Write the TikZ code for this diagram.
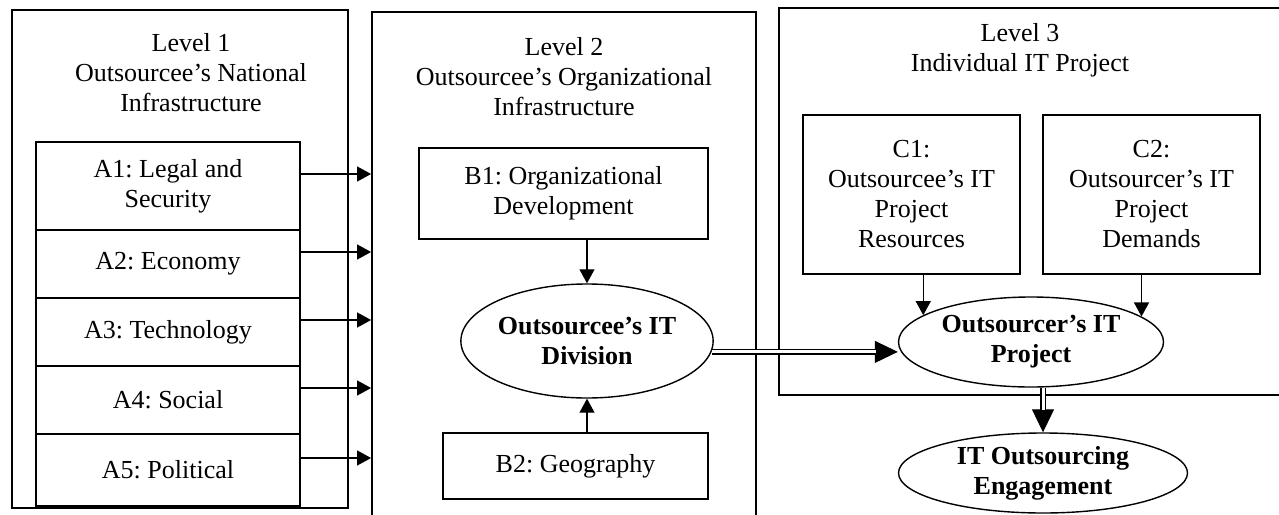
\documentclass[tikz,border=0pt]{standalone}
\usepackage{fontspec}
\setmainfont{Liberation Serif}
\usetikzlibrary{arrows.meta,shapes.geometric}
\frenchspacing
\begin{document}
\begin{tikzpicture}[x=0.5pt,y=-0.5pt,
  every node/.style={font=\fontsize{13}{15}\selectfont, align=center, inner sep=0pt},
  levelbox/.style={draw, line width=0.9pt, rectangle},
  factor/.style={draw, line width=0.9pt, rectangle},
  title/.style={},
  oval/.style={draw, ellipse, line width=0.7pt, font=\fontsize{13}{15}\selectfont\bfseries},
  arr/.style={line width=0.55pt, -{Triangle[length=7pt,width=7.5pt]}},
  arrbig/.style={line width=0.5pt, -{Triangle[length=11.5pt,width=11pt]}},
  dbl/.style={line width=0.55pt, double=white, double distance=1.5pt}
]
\useasboundingbox (0,0) rectangle (1279,514);

% Level 1
\node[levelbox, minimum width=168pt, minimum height=249pt] (l1) at (180,259) {};
\node[title] (t1) at (191,73) {Level 1\\Outsourcee’s National\\Infrastructure};
\node[factor, minimum width=132pt, minimum height=44pt] (a1) at (168,186) {A1: Legal and\\Security};
\node[factor, minimum width=132pt, minimum height=34pt] (a2) at (168,264) {A2: Economy};
\node[factor, minimum width=132pt, minimum height=34pt] (a3) at (168,332) {A3: Technology};
\node[factor, minimum width=132pt, minimum height=34pt] (a4) at (168,400) {A4: Social};
\node[factor, minimum width=132pt, minimum height=36pt] (a5) at (168,470) {A5: Political};

% Level 2
\node[levelbox, minimum width=192pt, minimum height=259pt] (l2) at (564,271) {};
\node[title] (t2) at (564,77) {Level 2\\Outsourcee’s Organizational\\Infrastructure};
\node[factor, minimum width=144.5pt, minimum height=45.5pt] (b1) at (563.5,193.5) {B1: Organizational\\Development};
\node[oval, minimum width=120.5pt, minimum height=57pt] (e1) at (587,341) {Outsourcee’s IT\\Division};
\node[factor, minimum width=132.5pt, minimum height=33pt] (b2) at (575.5,466) {B2: Geography};

% Level 3
\node[levelbox, minimum width=260.5pt, minimum height=193.5pt] (l3) at (1039.5,201.5) {};
\node[title] (t3) at (1020,50.5) {Level 3\\Individual IT Project};
\node[factor, minimum width=108.5pt, minimum height=79.5pt] (c1) at (911.5,194.5) {C1:\\Outsourcee’s IT\\Project\\Resources};
\node[factor, minimum width=108.5pt, minimum height=79.5pt] (c2) at (1151.5,194.5) {C2:\\Outsourcer’s IT\\Project\\Demands};
\node[oval, minimum width=132.5pt, minimum height=45pt] (e2) at (1031,342) {Outsourcer’s IT\\Project};
\node[oval, minimum width=144.5pt, minimum height=40pt] (e3) at (1043,473) {IT Outsourcing\\Engagement};

% A arrows
\foreach \n in {a1,a2,a3,a4,a5}{
  \draw[arr] ([yshift=6pt]\n.east) -- ([yshift=6pt]\n.east -| l2.west);
}
% B arrows
\draw[arr] (b1.south -| e1.north) -- (e1.north);
\draw[arr] (b2.north -| e1.south) -- (e1.south);
% C arrows
\draw[arr] (c1.south -| e2.166) -- (e2.166);
\draw[arr] (c2.south -| e2.13) -- (e2.13);

% double arrows
\draw[arrbig] (e1.-5) -- (e1.-5 -| e2.west);
\draw[dbl] (e1.-5) -- ([xshift=-11pt]e1.-5 -| e2.west);
\draw[arrbig] (e3.north |- e2.south) -- (e3.north);
\draw[dbl] (e3.north |- e2.south) -- ([yshift=11pt]e3.north);
\end{tikzpicture}
\end{document}
